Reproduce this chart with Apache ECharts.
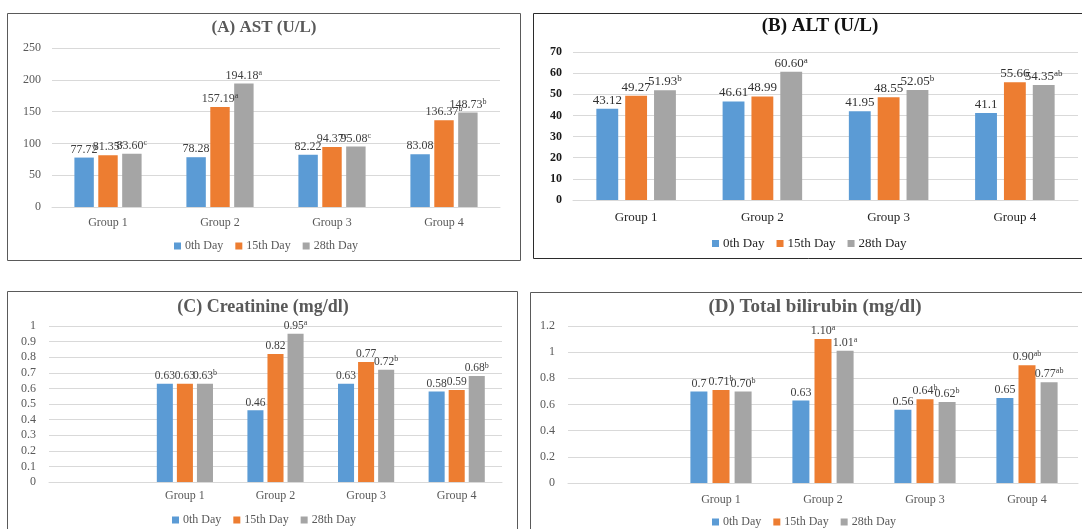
<!DOCTYPE html>
<html>
<head>
<meta charset="utf-8">
<title>Liver and kidney markers</title>
<script src="https://cdn.jsdelivr.net/npm/echarts@6/dist/echarts.min.js"></script>
<style>
  html, body { margin: 0; padding: 0; background: #ffffff; }
  #chart { width: 1082px; height: 529px; }
</style>
</head>
<body>
<div id="chart"></div>
<script>
// ---- data ----
const seriesNames = ['0th Day', '15th Day', '28th Day'];
const groups = ['Group 1', 'Group 2', 'Group 3', 'Group 4'];
const groupsPadded = ['', 'Group 1', 'Group 2', 'Group 3', 'Group 4'];

// (A) AST (U/L)
const astDay0 = ['77.72', '78.28', '82.22', '83.08'];
const astDay15 = ['81.35', '157.19', '94.37', '136.37'];
const astDay28 = ['83.60', '194.18', '95.08', '148.73'];
const astSup0 = ['', '', '', ''];
const astSup15 = ['c', 'a', 'c', 'b'];
const astSup28 = ['c', 'a', 'c', 'b'];
const astTicks = [0, 50, 100, 150, 200, 250];

// (B) ALT (U/L)
const altDay0 = ['43.12', '46.61', '41.95', '41.1'];
const altDay15 = ['49.27', '48.99', '48.55', '55.66'];
const altDay28 = ['51.93', '60.60', '52.05', '54.35'];
const altSup0 = ['', '', '', ''];
const altSup15 = ['', '', '', ''];
const altSup28 = ['b', 'a', 'b', 'ab'];
const altTicks = [0, 10, 20, 30, 40, 50, 60, 70];

// (C) Creatinine (mg/dl) — first category slot is empty
const creDay0 = [null, '0.63', '0.46', '0.63', '0.58'];
const creDay15 = [null, '0.63', '0.82', '0.77', '0.59'];
const creDay28 = [null, '0.63', '0.95', '0.72', '0.68'];
const creSup0 = ['', '', '', '', ''];
const creSup15 = ['', '', '', '', ''];
const creSup28 = ['', 'b', 'a', 'b', 'b'];
const creTicks = [0, 0.1, 0.2, 0.3, 0.4, 0.5, 0.6, 0.7, 0.8, 0.9, 1];

// (D) Total bilirubin (mg/dl) — first category slot is empty
const bilDay0 = [null, '0.7', '0.63', '0.56', '0.65'];
const bilDay15 = [null, '0.71', '1.10', '0.64', '0.90'];
const bilDay28 = [null, '0.70', '1.01', '0.62', '0.77'];
const bilSup0 = ['', '', '', '', ''];
const bilSup15 = ['', 'b', 'a', 'b', 'ab'];
const bilSup28 = ['', 'b', 'a', 'b', 'ab'];
const bilTicks = [0, 0.2, 0.4, 0.6, 0.8, 1, 1.2];

// ---- look ----
const colors = ['#5B9BD5', '#ED7D31', '#A5A5A5'];
const serif = "'Liberation Serif', 'Times New Roman', serif";
const gridColor = '#D9D9D9';

const panels = [
  {
    title: '(A) AST (U/L)', categories: groups,
    values: [astDay0, astDay15, astDay28], sups: [astSup0, astSup15, astSup28], ticks: astTicks,
    frame: { x: 7, y: 13, w: 513, h: 247, color: '#5a5a5a' },
    titlePos: { x: 264, y: 19 }, titleSize: 17, titleColor: '#595959',
    grid: { left: 52, top: 48, width: 448, height: 159 },
    yLabel: { size: 12, color: '#595959', weight: 'normal', margin: 11 },
    xLabel: { size: 12, color: '#595959', margin: 10 },
    legend: { left: 174, top: 240, size: 12, color: '#595959' },
    dataLabel: { size: 12, sup: 8, color: '#404040' },
    barGap: '23%', barCategoryGap: '40%'
  },
  {
    title: '(B) ALT (U/L)', categories: groups,
    values: [altDay0, altDay15, altDay28], sups: [altSup0, altSup15, altSup28], ticks: altTicks,
    frame: { x: 533, y: 13, w: 560, h: 245, color: '#2b2b2b' },
    titlePos: { x: 820, y: 17 }, titleSize: 19, titleColor: '#111111',
    grid: { left: 573, top: 52, width: 505, height: 148 },
    yLabel: { size: 12, color: '#1a1a1a', weight: 'bold', margin: 11 },
    xLabel: { size: 13, color: '#262626', margin: 11 },
    legend: { left: 712, top: 237, size: 13, color: '#262626' },
    dataLabel: { size: 13, sup: 9, color: '#333333' },
    barGap: '32%', barCategoryGap: '37%'
  },
  {
    title: '(C) Creatinine (mg/dl)', categories: groupsPadded,
    values: [creDay0, creDay15, creDay28], sups: [creSup0, creSup15, creSup28], ticks: creTicks,
    frame: { x: 7, y: 291, w: 510, h: 250, color: '#5a5a5a' },
    titlePos: { x: 263, y: 298 }, titleSize: 18, titleColor: '#595959',
    grid: { left: 49, top: 326, width: 453, height: 156 },
    yLabel: { size: 12, color: '#595959', weight: 'normal', margin: 13 },
    xLabel: { size: 12, color: '#595959', margin: 8 },
    legend: { left: 172, top: 514, size: 12, color: '#595959' },
    dataLabel: { size: 11.5, sup: 8, color: '#404040' },
    barGap: '25%', barCategoryGap: '38%'
  },
  {
    title: '(D) Total bilirubin (mg/dl)', categories: groupsPadded,
    values: [bilDay0, bilDay15, bilDay28], sups: [bilSup0, bilSup15, bilSup28], ticks: bilTicks,
    frame: { x: 530, y: 292, w: 560, h: 250, color: '#5a5a5a' },
    titlePos: { x: 815, y: 298 }, titleSize: 19, titleColor: '#595959',
    grid: { left: 568, top: 326, width: 510, height: 157 },
    yLabel: { size: 12, color: '#595959', weight: 'normal', margin: 13 },
    xLabel: { size: 12, color: '#595959', margin: 11 },
    legend: { left: 712, top: 516, size: 12, color: '#595959' },
    dataLabel: { size: 12, sup: 8, color: '#404040' },
    barGap: '30%', barCategoryGap: '40%'
  }
];

// ---- build option ----
const option = {
  animation: false,
  backgroundColor: '#ffffff',
  title: [], grid: [], xAxis: [], yAxis: [], legend: [], series: [],
  graphic: []
};

panels.forEach(function (p, i) {
  const f = p.frame;
  option.graphic.push({
    type: 'rect', z: 100, silent: true,
    shape: { x: f.x + 0.5, y: f.y + 0.5, width: f.w, height: f.h },
    style: { fill: 'none', stroke: f.color, lineWidth: 1 }
  });

  option.title.push({
    text: p.title, left: p.titlePos.x, top: p.titlePos.y, textAlign: 'center', padding: 0,
    textStyle: { fontFamily: serif, fontWeight: 'bold', fontSize: p.titleSize, color: p.titleColor }
  });

  option.grid.push({
    left: p.grid.left, top: p.grid.top, width: p.grid.width, height: p.grid.height,
    containLabel: false
  });

  option.xAxis.push({
    type: 'category', gridIndex: i, data: p.categories,
    axisTick: { show: false },
    axisLine: { lineStyle: { color: gridColor, width: 1 } },
    axisLabel: { fontFamily: serif, fontSize: p.xLabel.size, color: p.xLabel.color, margin: p.xLabel.margin, interval: 0 }
  });

  const t = p.ticks;
  option.yAxis.push({
    type: 'value', gridIndex: i,
    min: t[0], max: t[t.length - 1], interval: t[1] - t[0],
    axisLine: { show: false }, axisTick: { show: false },
    splitLine: { lineStyle: { color: gridColor, width: 1 } },
    axisLabel: {
      fontFamily: serif, fontSize: p.yLabel.size, color: p.yLabel.color,
      fontWeight: p.yLabel.weight, margin: p.yLabel.margin,
      formatter: function (v) { return String(Math.round(v * 100) / 100); }
    }
  });

  option.legend.push({
    data: seriesNames, left: p.legend.left, top: p.legend.top,
    icon: 'rect', itemWidth: 7, itemHeight: 7, itemGap: 12, padding: 0,
    selectedMode: false,
    textStyle: { fontFamily: serif, fontSize: p.legend.size, color: p.legend.color, padding: [0, 0, 0, -1] }
  });

  seriesNames.forEach(function (name, s) {
    const raw = p.values[s];
    const sup = p.sups[s];
    option.series.push({
      type: 'bar', name: name, xAxisIndex: i, yAxisIndex: i,
      barGap: p.barGap, barCategoryGap: p.barCategoryGap,
      itemStyle: { color: colors[s] },
      data: raw.map(function (v) { return v === null ? '-' : Number(v); }),
      label: {
        show: true, position: 'top', distance: 1,
        formatter: function (prm) {
          const txt = raw[prm.dataIndex];
          if (txt === null) return '';
          const sc = sup[prm.dataIndex];
          return sc ? '{v|' + txt + '}{s|' + sc + '}' : '{v|' + txt + '}';
        },
        rich: {
          v: { fontFamily: serif, fontSize: p.dataLabel.size, color: p.dataLabel.color, lineHeight: p.dataLabel.size + 2 },
          s: { fontFamily: serif, fontSize: p.dataLabel.sup, color: p.dataLabel.color, verticalAlign: 'top', lineHeight: p.dataLabel.size + 2 }
        }
      }
    });
  });
});

const chart = echarts.init(document.getElementById('chart'), null, { renderer: 'canvas' });
chart.setOption(option);
</script>
</body>
</html>
